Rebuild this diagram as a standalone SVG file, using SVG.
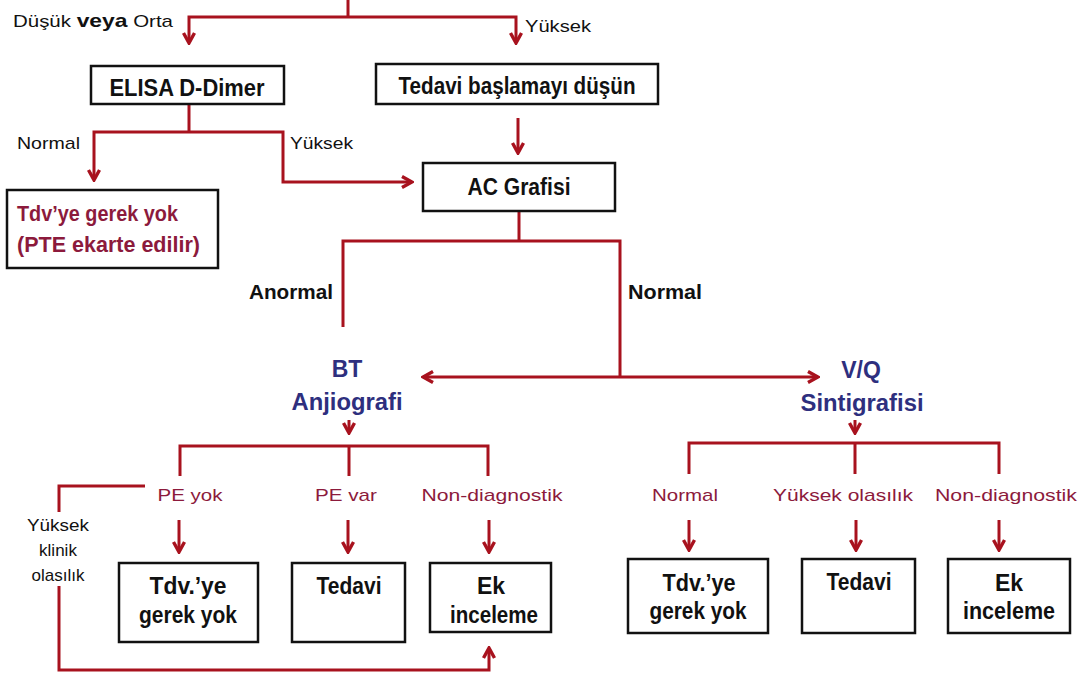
<svg xmlns="http://www.w3.org/2000/svg" width="1091" height="678" viewBox="0 0 1091 678">
<style>
.bx{fill:#fff;stroke:#111;stroke-width:2.5}
.ln{fill:none;stroke:#A8121E;stroke-width:3}
.bt{font-family:"Liberation Sans",Arial,sans-serif;font-weight:bold;font-size:23px;fill:#111;text-anchor:middle}
.lb{font-family:"Liberation Sans",Arial,sans-serif;font-size:17px;fill:#111}
.lbb{font-family:"Liberation Sans",Arial,sans-serif;font-size:20px;font-weight:bold;fill:#111}
.cr{font-family:"Liberation Sans",Arial,sans-serif;font-size:17px;fill:#8C1A3C;text-anchor:middle}
.crb{font-family:"Liberation Sans",Arial,sans-serif;font-size:22px;font-weight:bold;fill:#8C1A3C}
.nv{font-family:"Liberation Sans",Arial,sans-serif;font-size:23px;font-weight:bold;fill:#2E2F7E;text-anchor:middle}
</style>
<defs>
<marker id="ah" viewBox="0 0 14 14" refX="12" refY="7" markerWidth="14" markerHeight="14" orient="auto-start-reverse" markerUnits="userSpaceOnUse">
<path d="M2,1.5 L12,7 L2,12.5" fill="none" stroke="#A8121E" stroke-width="3.4" stroke-linejoin="miter"/>
</marker>
</defs>
<rect width="1091" height="678" fill="#fff"/>
<g id="connectors">
<path class="ln" d="M348,0 V17"/>
<path class="ln" d="M189,43 V17 H516 V43" marker-start="url(#ah)" marker-end="url(#ah)"/>
<path class="ln" d="M189,104 V132"/>
<path class="ln" d="M94,180 V132 H283 V182 H412" marker-start="url(#ah)" marker-end="url(#ah)"/>
<path class="ln" d="M518,118 V153" marker-end="url(#ah)"/>
<path class="ln" d="M519,211 V241"/>
<path class="ln" d="M343,327 V241 H620 V377"/>
<path class="ln" d="M423,377 H818" marker-start="url(#ah)" marker-end="url(#ah)"/>
<path class="ln" d="M349,420 V433" marker-end="url(#ah)"/>
<path class="ln" d="M180,476 V446 H488 V476 M349,446 V476"/>
<path class="ln" d="M855,420 V433" marker-end="url(#ah)"/>
<path class="ln" d="M689,474 V443 H999 V474 M855,443 V474"/>
<path class="ln" d="M179,520 V552" marker-end="url(#ah)"/>
<path class="ln" d="M348,520 V552" marker-end="url(#ah)"/>
<path class="ln" d="M489,520 V552" marker-end="url(#ah)"/>
<path class="ln" d="M689,520 V550" marker-end="url(#ah)"/>
<path class="ln" d="M856,520 V550" marker-end="url(#ah)"/>
<path class="ln" d="M999,520 V550" marker-end="url(#ah)"/>
<path class="ln" d="M145,486 H59 V512"/>
<path class="ln" d="M59,586 V670 H489 V648" marker-end="url(#ah)"/>
</g>
<g id="labels">
<text class="lb" x="13" y="27" font-size="16" textLength="160" lengthAdjust="spacingAndGlyphs">Düşük <tspan font-weight="bold" font-size="19">veya</tspan> Orta</text>
<text class="lb" x="525" y="32" font-size="16" textLength="66" lengthAdjust="spacingAndGlyphs">Yüksek</text>
<text class="lb" x="17" y="149" textLength="63" lengthAdjust="spacingAndGlyphs">Normal</text>
<text class="lb" x="290" y="149" textLength="63" lengthAdjust="spacingAndGlyphs">Yüksek</text>
<text class="lbb" x="249" y="299" textLength="84" lengthAdjust="spacingAndGlyphs">Anormal</text>
<text class="lbb" x="628" y="299" textLength="74" lengthAdjust="spacingAndGlyphs">Normal</text>
<text class="cr" x="190" y="501" textLength="65" lengthAdjust="spacingAndGlyphs">PE yok</text>
<text class="cr" x="346" y="501" textLength="62" lengthAdjust="spacingAndGlyphs">PE var</text>
<text class="cr" x="492" y="501" textLength="141" lengthAdjust="spacingAndGlyphs">Non-diagnostik</text>
<text class="cr" x="685" y="501" textLength="66" lengthAdjust="spacingAndGlyphs">Normal</text>
<text class="cr" x="843" y="501" textLength="140" lengthAdjust="spacingAndGlyphs">Yüksek olasılık</text>
<text class="cr" x="1006" y="501" textLength="142" lengthAdjust="spacingAndGlyphs">Non-diagnostik</text>
<text class="lb" text-anchor="middle" x="58" y="531" font-size="18" textLength="62" lengthAdjust="spacingAndGlyphs">Yüksek</text>
<text class="lb" text-anchor="middle" x="58" y="556" font-size="18">klinik</text>
<text class="lb" text-anchor="middle" x="58" y="581" font-size="18">olasılık</text>
</g>
<g id="elisa"><rect class="bx" x="91" y="66" width="193" height="38"/><text class="bt" x="187" y="96" textLength="155" lengthAdjust="spacingAndGlyphs">ELISA D-Dimer</text></g>
<g id="tedavi-basla"><rect class="bx" x="376" y="64" width="282" height="40"/><text class="bt" x="517" y="94" textLength="237" lengthAdjust="spacingAndGlyphs">Tedavi başlamayı düşün</text></g>
<g id="ac-grafisi"><rect class="bx" x="423" y="163" width="192" height="48"/><text class="bt" x="519" y="195" textLength="103" lengthAdjust="spacingAndGlyphs">AC Grafisi</text></g>
<g id="tdv-yok-1"><rect class="bx" x="7" y="190" width="211" height="78"/><text class="crb" x="17" y="221" textLength="161" lengthAdjust="spacingAndGlyphs">Tdv’ye gerek yok</text><text class="crb" x="17" y="252" textLength="183" lengthAdjust="spacingAndGlyphs">(PTE ekarte edilir)</text></g>
<g id="bt-anjiografi"><text class="nv" x="347" y="377">BT</text><text class="nv" x="347" y="410" textLength="111" lengthAdjust="spacingAndGlyphs">Anjiografi</text></g>
<g id="vq-sintigrafisi"><text class="nv" x="861" y="378">V/Q</text><text class="nv" x="862" y="411" textLength="123" lengthAdjust="spacingAndGlyphs">Sintigrafisi</text></g>
<g id="bt-tdv-yok"><rect class="bx" x="119" y="563" width="139" height="79"/><text class="bt" x="188" y="594" textLength="77" lengthAdjust="spacingAndGlyphs">Tdv.’ye</text><text class="bt" x="188" y="623" textLength="98" lengthAdjust="spacingAndGlyphs">gerek yok</text></g>
<g id="bt-tedavi"><rect class="bx" x="292" y="563" width="113" height="79"/><text class="bt" x="349" y="594" textLength="65" lengthAdjust="spacingAndGlyphs">Tedavi</text></g>
<g id="bt-ek"><rect class="bx" x="430" y="563" width="121" height="69"/><text class="bt" x="491" y="594">Ek</text><text class="bt" x="494" y="623" textLength="88" lengthAdjust="spacingAndGlyphs">inceleme</text></g>
<g id="vq-tdv-yok"><rect class="bx" x="628" y="559" width="140" height="74"/><text class="bt" x="699" y="591" textLength="73" lengthAdjust="spacingAndGlyphs">Tdv.’ye</text><text class="bt" x="698" y="619" textLength="97" lengthAdjust="spacingAndGlyphs">gerek yok</text></g>
<g id="vq-tedavi"><rect class="bx" x="802" y="559" width="113" height="74"/><text class="bt" x="859" y="590" textLength="65" lengthAdjust="spacingAndGlyphs">Tedavi</text></g>
<g id="vq-ek"><rect class="bx" x="948" y="559" width="122" height="74"/><text class="bt" x="1009" y="591">Ek</text><text class="bt" x="1009" y="619" textLength="92" lengthAdjust="spacingAndGlyphs">inceleme</text></g>
</svg>
